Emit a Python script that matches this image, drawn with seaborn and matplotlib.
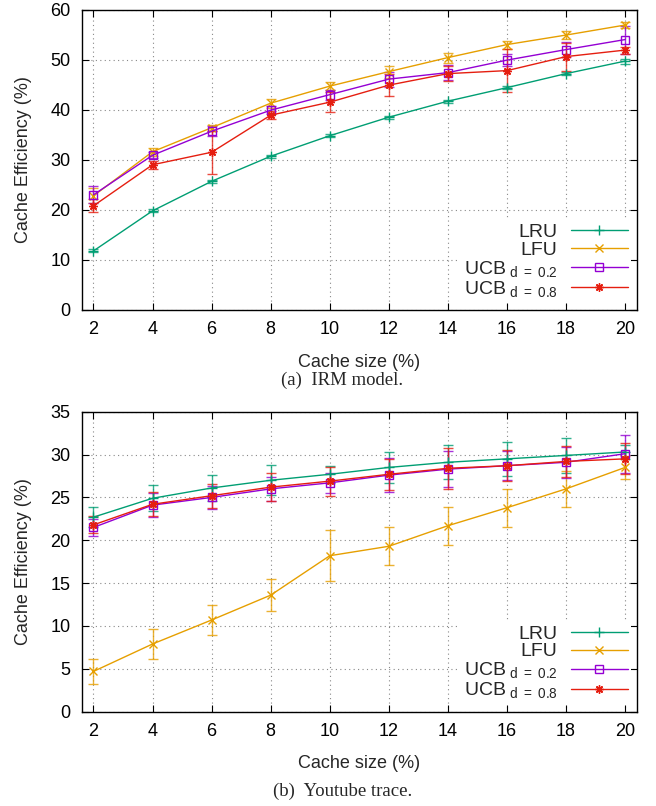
import numpy as np
import pandas as pd
import matplotlib
matplotlib.use("Agg")
import matplotlib.pyplot as plt
from matplotlib.lines import Line2D
import seaborn as sns

cache_size = [2, 4, 6, 8, 10, 12, 14, 16, 18, 20]
algos = ["LRU", "LFU", "UCB0.2", "UCB0.8"]

# (a) IRM model
irm_lru = [11.8, 19.8, 25.7, 30.7, 34.8, 38.5, 41.7, 44.4, 47.2, 49.7]
irm_lru_err = [0.3, 0.3, 0.3, 0.3, 0.3, 0.3, 0.3, 0.3, 0.3, 0.5]
irm_lfu = [22.8, 31.6, 36.4, 41.3, 44.7, 47.6, 50.4, 53.0, 54.9, 56.9]
irm_lfu_err = [1.5, 0.8, 0.6, 0.9, 0.8, 1.2, 1.0, 0.8, 0.8, 0.6]
irm_ucb2 = [23.0, 30.9, 35.7, 39.9, 43.0, 46.1, 47.4, 49.9, 52.0, 54.0]
irm_ucb2_err = [1.7, 0.6, 1.0, 0.8, 1.0, 1.5, 1.5, 1.2, 1.5, 2.8]
irm_ucb8 = [20.8, 29.0, 31.5, 38.9, 41.5, 44.9, 47.2, 47.8, 50.6, 51.9]
irm_ucb8_err = [1.3, 0.8, 4.3, 0.8, 2.0, 2.2, 1.5, 4.3, 2.8, 0.7]

# (b) Youtube trace
yt_lru = [22.7, 24.9, 26.1, 27.0, 27.7, 28.5, 29.1, 29.5, 29.9, 30.3]
yt_lru_err = [1.2, 1.5, 1.5, 1.75, 1.0, 1.8, 2.0, 2.0, 2.0, 0.8]
yt_lfu = [4.7, 7.9, 10.7, 13.6, 18.2, 19.3, 21.7, 23.8, 26.0, 28.5]
yt_lfu_err = [1.5, 1.75, 1.75, 1.9, 3.0, 2.2, 2.2, 2.2, 2.1, 1.3]
yt_ucb2 = [21.5, 24.1, 25.0, 26.0, 26.7, 27.6, 28.3, 28.7, 29.1, 30.1]
yt_ucb2_err = [1.0, 1.4, 1.3, 1.4, 1.2, 2.0, 2.1, 1.7, 1.8, 2.2]
yt_ucb8 = [21.8, 24.2, 25.2, 26.2, 26.9, 27.7, 28.4, 28.7, 29.2, 29.5]
yt_ucb8_err = [1.0, 1.4, 1.4, 1.6, 1.7, 1.8, 2.4, 1.8, 1.8, 1.8]

colors = {"LRU": "#009e73", "LFU": "#e69f00", "UCB0.2": "#9400d3", "UCB0.8": "#e51e10"}
markers = {"LRU": "+", "LFU": "x", "UCB0.2": "s", "UCB0.8": (8, 2, 0)}
msizes = {"LRU": 6.5, "LFU": 5.5, "UCB0.2": 6, "UCB0.8": 6}
labels = {"LRU": "LRU", "LFU": "LFU",
          "UCB0.2": r"UCB$\;_{\mathrm{d\ =\ 0.2}}$",
          "UCB0.8": r"UCB$\;_{\mathrm{d\ =\ 0.8}}$"}

sns.set_style("ticks")
plt.rcParams["font.family"] = ["Liberation Sans", "DejaVu Sans"]
plt.rcParams["mathtext.fontset"] = "custom"
plt.rcParams["mathtext.rm"] = "Liberation Sans"
plt.rcParams["mathtext.it"] = "Liberation Sans:italic"
FS = 13


def make_df(vals, errs):
    rows = []
    for a in algos:
        for s, v, e in zip(cache_size, vals[a], errs[a]):
            rows.append({"size": s, "eff": v, "err": e, "algo": a})
    return pd.DataFrame(rows)


def draw(ax, df, ymax, ystep):
    for a in algos:
        d = df[df["algo"] == a]
        c = colors[a]
        ax.errorbar(d["size"], d["eff"], yerr=d["err"], fmt="none", ecolor=c,
                    elinewidth=1.0, capsize=3.5, capthick=1.0, alpha=0.8, zorder=2)
        sns.lineplot(data=d, x="size", y="eff", ax=ax, color=c, linewidth=1.0,
                     marker=markers[a], markersize=msizes[a],
                     markerfacecolor="none", markeredgecolor=c, markeredgewidth=1.0,
                     errorbar=None, zorder=3)
    ax.set_xlim(1.6, 20.4)
    ax.set_ylim(0, ymax)
    ax.set_xticks(cache_size)
    ax.set_yticks(np.arange(0, ymax + 0.1, ystep))
    ax.grid(True, linestyle=(0, (1, 3)), color="#888888", linewidth=0.8)
    ax.set_axisbelow(True)
    ax.tick_params(direction="in", top=True, right=True, length=5, width=0.8,
                   labelsize=FS, colors="black")
    ax.tick_params(axis="x", pad=8)
    ax.tick_params(axis="y", pad=8)
    for sp in ax.spines.values():
        sp.set_color("black")
        sp.set_linewidth(1.0)
    ax.set_xlabel("Cache size (%)", fontsize=FS)
    ax.set_ylabel("Cache Efficiency (%)", fontsize=FS)
    ax.xaxis.set_label_coords(0.5, -0.145)
    ax.yaxis.set_label_coords(-0.09, 0.5)
    handles = [Line2D([0], [0], color=colors[a], linewidth=1.0, marker=markers[a],
                      markersize=msizes[a], markerfacecolor="none",
                      markeredgecolor=colors[a], markeredgewidth=1.0)
               for a in algos]
    leg = ax.legend(handles, [labels[a] for a in algos], loc="lower right",
                    bbox_to_anchor=(0.99, 0.025),
                    markerfirst=False, numpoints=1, fontsize=FS + 1,
                    handlelength=2.9, handletextpad=0.7, labelspacing=0.0,
                    borderpad=0.2, borderaxespad=0.0, frameon=True,
                    fancybox=False, framealpha=1.0)
    leg.get_frame().set_edgecolor("none")
    leg.get_frame().set_facecolor("white")


fig = plt.figure(figsize=(6.56, 8.06), dpi=100)
ax1 = fig.add_axes([0.1245, 0.6154, 0.8465, 0.3728])
ax2 = fig.add_axes([0.1245, 0.1170, 0.8465, 0.3722])

irm = make_df({"LRU": irm_lru, "LFU": irm_lfu, "UCB0.2": irm_ucb2, "UCB0.8": irm_ucb8},
              {"LRU": irm_lru_err, "LFU": irm_lfu_err, "UCB0.2": irm_ucb2_err,
               "UCB0.8": irm_ucb8_err})
yt = make_df({"LRU": yt_lru, "LFU": yt_lfu, "UCB0.2": yt_ucb2, "UCB0.8": yt_ucb8},
             {"LRU": yt_lru_err, "LFU": yt_lfu_err, "UCB0.2": yt_ucb2_err,
              "UCB0.8": yt_ucb8_err})

draw(ax1, irm, 60, 10)
draw(ax2, yt, 35, 5)

fig.text(0.522, 0.5285, "(a)  IRM model.", ha="center", va="center",
         fontsize=13.5, family="Liberation Serif")
fig.text(0.522, 0.0186, "(b)  Youtube trace.", ha="center", va="center",
         fontsize=13.5, family="Liberation Serif")

fig.savefig("out.png", dpi=100)
